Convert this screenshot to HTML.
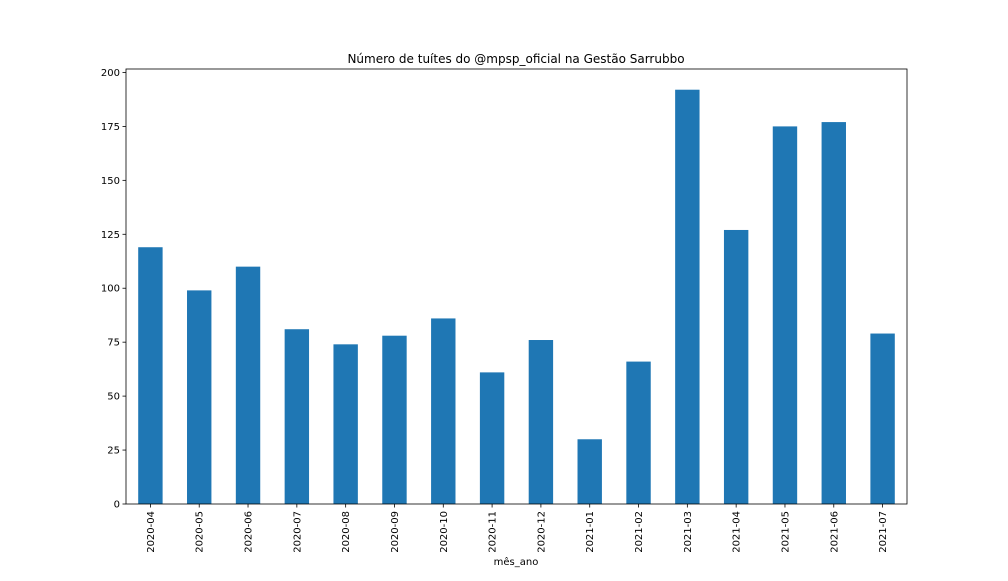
<!DOCTYPE html>
<html><head><meta charset="utf-8"><style>
body{margin:0;background:#fff;font-family:"Liberation Sans","DejaVu Sans",sans-serif;}
svg text{font-family:"DejaVu Sans","Liberation Sans",sans-serif;}
</style></head><body>
<svg id="chart" width="1008" height="576" xmlns="http://www.w3.org/2000/svg">
<rect width="1008" height="576" fill="#fff"/>
<text x="516" y="63" text-anchor="middle" font-size="12">Número de tuítes do @mpsp_oficial na Gestão Sarrubbo</text>
<text x="516" y="565" text-anchor="middle" font-size="10">mês_ano</text>
</svg>
<script>
const categories=["2020-04","2020-05","2020-06","2020-07","2020-08","2020-09","2020-10","2020-11","2020-12","2021-01","2021-02","2021-03","2021-04","2021-05","2021-06","2021-07"];
const values=[119,99,110,81,74,78,86,61,76,30,66,192,127,175,177,79];
const yTicks=[0,25,50,75,100,125,150,175,200];
const svg=document.getElementById('chart');
const NS='http://www.w3.org/2000/svg';
const L=126,R=907,T=69,B=504;
const yMax=Math.max(...values)*1.05;
const y=v=>B-(v/yMax)*(B-T);
const step=(R-L)/categories.length;
const x=i=>L+step*(i+0.5);
function mk(tag,attrs){const e=document.createElementNS(NS,tag);for(const k in attrs)e.setAttribute(k,attrs[k]);svg.appendChild(e);return e;}
values.forEach((v,i)=>{
  const r=mk('rect',{x:x(i)-step/4,y:y(v),width:step/2,height:B-y(v),fill:'#1f77b4'});
  
  
});
yTicks.forEach(t=>{
  const l=mk('line',{x1:L-3.5,x2:L,y1:y(t),y2:y(t),stroke:'#000','stroke-width':0.8});
  
  
  const tx=mk('text',{x:L-6,y:y(t)+3.5,'text-anchor':'end','font-size':10});
  tx.textContent=t;
  
  
});
categories.forEach((c,i)=>{
  const l=mk('line',{x1:x(i),x2:x(i),y1:B,y2:B+3.5,stroke:'#000','stroke-width':0.8});
  
  
  const tx=mk('text',{x:0,y:0,'text-anchor':'end','font-size':10,transform:`translate(${x(i)+3.5},${B+7}) rotate(-90)`});
  tx.textContent=c;
  
  
});
const f=mk('rect',{x:L,y:T,width:R-L,height:B-T,fill:'none',stroke:'#000','stroke-width':0.8});


</script>
</body></html>
